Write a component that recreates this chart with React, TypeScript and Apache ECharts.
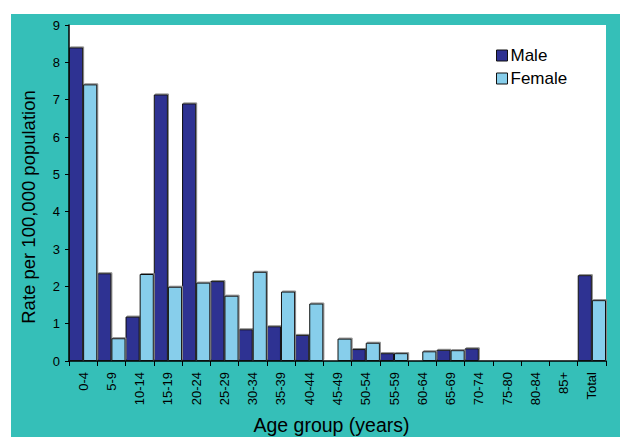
import React, { useEffect, useRef } from "react";
import * as echarts from "echarts";

const categories = ["0-4","5-9","10-14","15-19","20-24","25-29","30-34","35-39","40-44","45-49","50-54","55-59","60-64","65-69","70-74","75-80","80-84","85+","Total"];
const maleValues = [8.4, 2.35, 1.19, 7.14, 6.9, 2.14, 0.85, 0.93, 0.7, 0, 0.32, 0.21, 0, 0.3, 0.34, 0, 0, 0, 2.3];
const femaleValues = [7.41, 0.61, 2.33, 1.99, 2.1, 1.75, 2.39, 1.86, 1.54, 0.6, 0.49, 0.21, 0.26, 0.29, 0, 0, 0, 0, 1.63];
const yTicks = [0, 1, 2, 3, 4, 5, 6, 7, 8, 9];

const FONT = "Liberation Sans, Arial, sans-serif";

export default function App() {
  const ref = useRef<HTMLDivElement>(null);
  useEffect(() => {
    if (!ref.current) return;
    const chart = echarts.init(ref.current, undefined, { renderer: "svg" });
    const barStyle = (color: string) => ({
      color,
      borderColor: "#111",
      borderWidth: 1,
      shadowColor: "#8a8a8a",
      shadowBlur: 0,
      shadowOffsetX: 1,
      shadowOffsetY: -1,
    });
    chart.setOption({
      animation: false,
      backgroundColor: "#ffffff",
      textStyle: { fontFamily: FONT },
      graphic: [
        { type: "rect", z: -10, silent: true, shape: { x: 11, y: 14, width: 609, height: 423 }, style: { fill: "#35BFB8" } },
      ],
      grid: {
        left: 69,
        top: 25,
        right: 14,
        bottom: 76,
        show: true,
        backgroundColor: "#ffffff",
        borderWidth: 0,
        outerBoundsMode: "none",
        containLabel: false,
      },
      legend: {
        orient: "vertical",
        left: 491,
        top: 42,
        itemWidth: 11,
        itemHeight: 11,
        itemGap: 6,
        icon: "rect",
        itemStyle: { borderColor: "#111", borderWidth: 1 },
        textStyle: { fontSize: 17, color: "#000", fontFamily: FONT, padding: [0, 0, 0, -2] },
        data: ["Male", "Female"],
      },
      xAxis: {
        type: "category",
        data: categories,
        name: "Age group (years)",
        nameLocation: "middle",
        nameGap: 54,
        nameMoveOverlap: false,
        nameTextStyle: { fontSize: 19.5, color: "#000", fontFamily: FONT, padding: [0, 12, 0, 0] },
        axisLine: { lineStyle: { color: "#000", width: 1.5 } },
        axisTick: { show: true, interval: 0, length: 5, lineStyle: { color: "#000" } },
        axisLabel: { interval: 0, rotate: 90, fontSize: 13, color: "#000", margin: 11, fontFamily: FONT },
      },
      yAxis: {
        type: "value",
        min: yTicks[0],
        max: yTicks[yTicks.length - 1],
        interval: 1,
        name: "Rate per 100,000 population",
        nameLocation: "middle",
        nameGap: 31,
        nameMoveOverlap: false,
        nameTextStyle: { fontSize: 18.5, color: "#000", fontFamily: FONT, padding: [0, 28, 0, 0] },
        axisLine: { show: true, lineStyle: { color: "#000", width: 1.5 } },
        axisTick: { show: true, length: 4, lineStyle: { color: "#000" } },
        axisLabel: { fontSize: 13, color: "#000", margin: 9, fontFamily: FONT },
        splitLine: { show: false },
      },
      series: [
        {
          name: "Male",
          type: "bar",
          data: maleValues,
          barGap: "0%",
          barCategoryGap: "0%",
          itemStyle: barStyle("#2E3192"),
        },
        {
          name: "Female",
          type: "bar",
          data: femaleValues,
          barGap: "0%",
          barCategoryGap: "0%",
          itemStyle: barStyle("#87CEEB"),
        },
      ],
    });
    return () => chart.dispose();
  }, []);
  return <div ref={ref} style={{ position: "absolute", left: 0, top: 0, width: 620, height: 437 }} />;
}
